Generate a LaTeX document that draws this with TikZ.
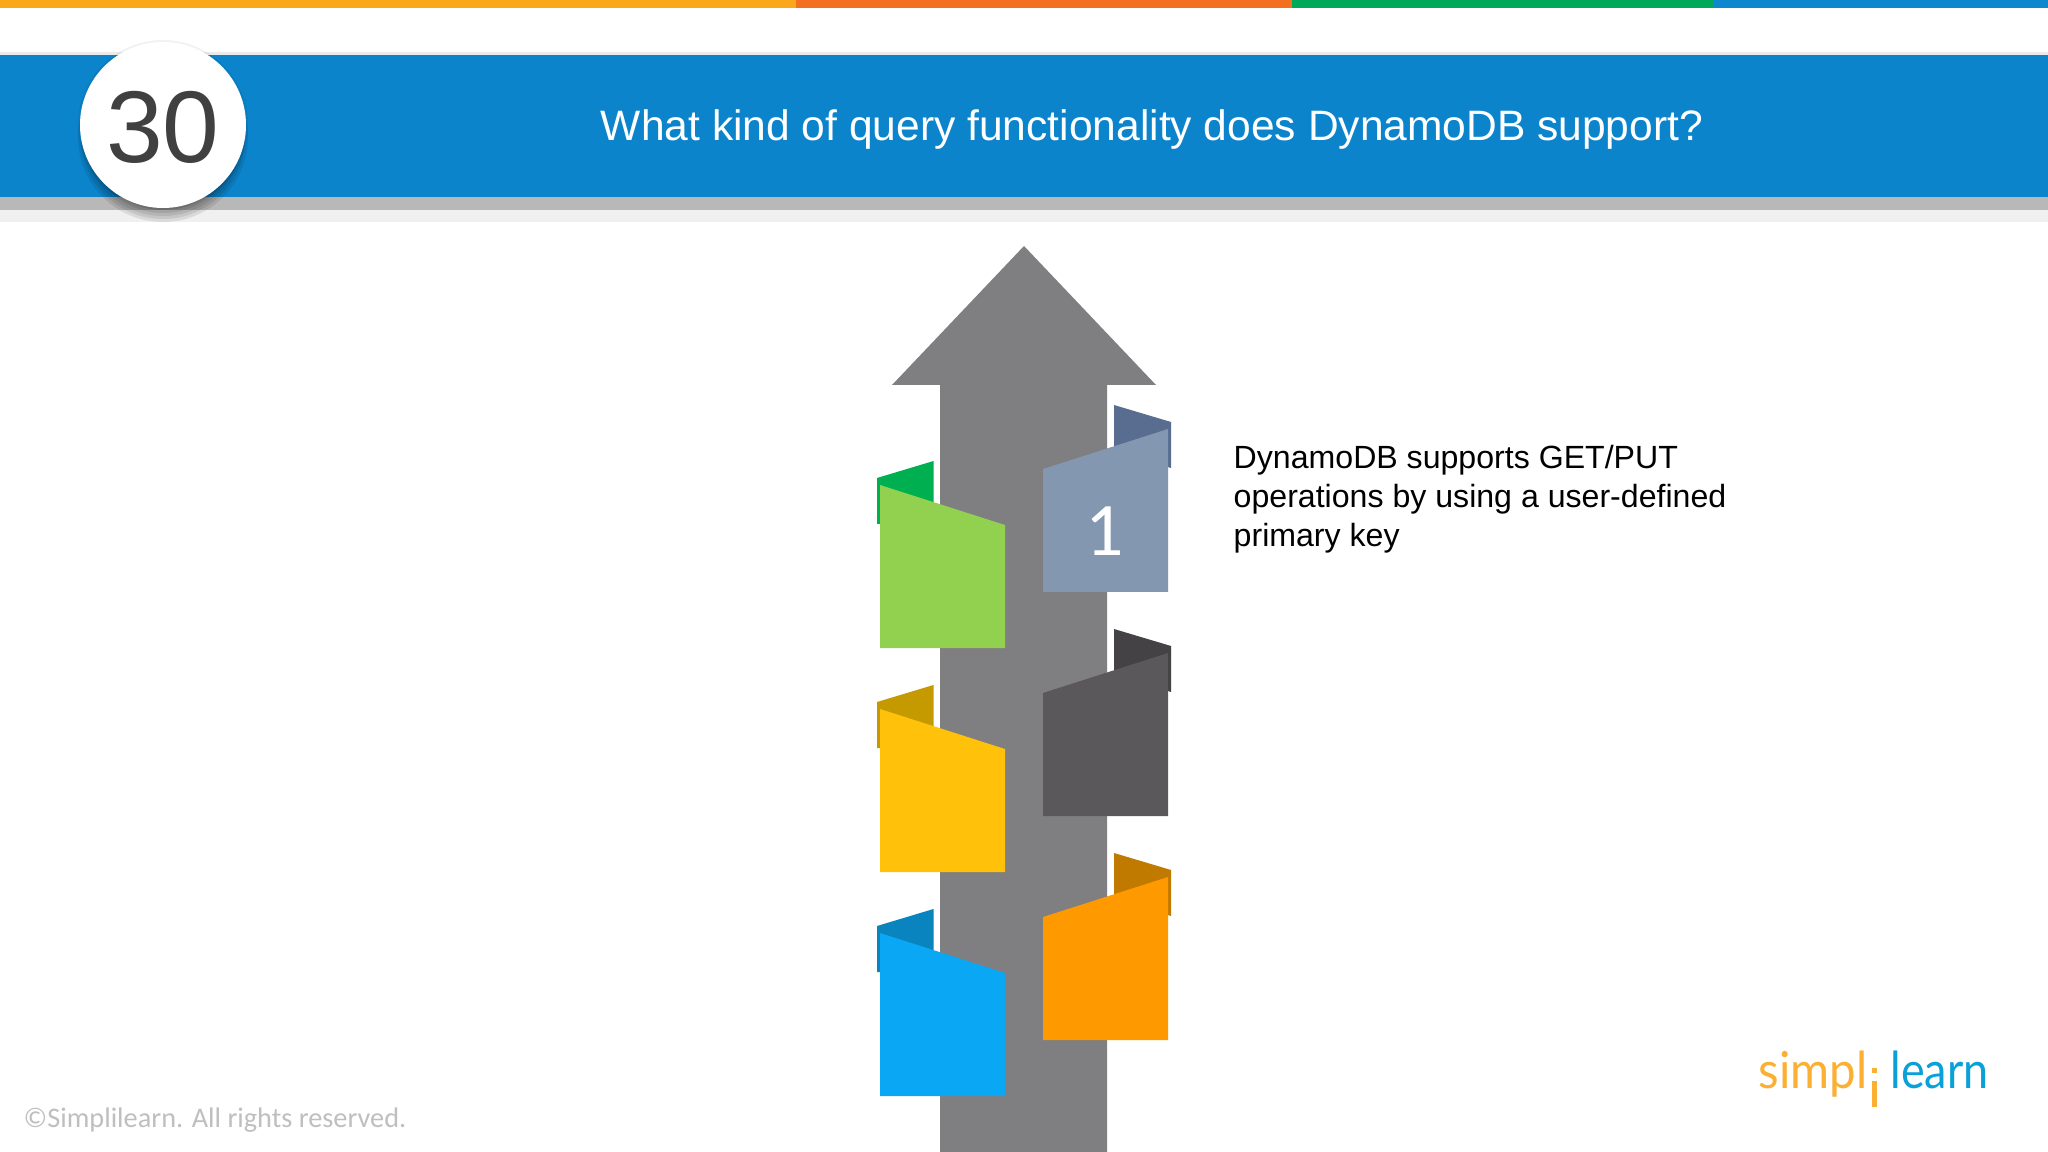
\documentclass[tikz,border=0pt]{standalone}
\usepackage{fontspec}
\setmainfont{Liberation Sans}
\newfontfamily\carlitofont{Carlito}
\newfontfamily\latofont{Lato}
\definecolor{barorange}{HTML}{FBA71C}
\definecolor{barred}{HTML}{F37021}
\definecolor{bargreen}{HTML}{00A859}
\definecolor{barblue}{HTML}{0D88CE}
\definecolor{bandblue}{HTML}{0B84CC}
\definecolor{arrowgrey}{HTML}{7F7E80}
\definecolor{slatefront}{HTML}{8497B0}
\definecolor{slateback}{HTML}{586D8F}
\definecolor{darkfront}{HTML}{5A585A}
\definecolor{darkback}{HTML}{444244}
\definecolor{orangefront}{HTML}{FF9900}
\definecolor{orangeback}{HTML}{C07A00}
\definecolor{greenfront}{HTML}{92D050}
\definecolor{greenback}{HTML}{00B050}
\definecolor{yellowfront}{HTML}{FFC10A}
\definecolor{yellowback}{HTML}{C49A00}
\definecolor{bluefront}{HTML}{0AA7F5}
\definecolor{blueback}{HTML}{0A84BE}
\tikzset{titletext/.style={text=white,font=\fontsize{12.1}{15}\selectfont},
  bodytext/.style={align=left,anchor=north west,text=black,font=\fontsize{9.13}{11}\selectfont}}
\begin{document}
\begin{tikzpicture}[x=0.01cm,y=-0.01cm]
    \useasboundingbox (0,0) rectangle (2048,1152);
    \fill [white] (0,0) rectangle (2048,1152);
    \fill [barorange] (0,0) rectangle (796,8);
    \fill [barred] (796,0) rectangle (1292,8);
    \fill [bargreen] (1292,0) rectangle (1714,8);
    \fill [barblue] (1714,0) rectangle (2048,8);
    \fill [black!8] (0,52) rectangle (2048,55);
    \fill [bandblue] (0,55) rectangle (2048,197);
    \fill [black!28] (0,197) rectangle (2048,210);
    \fill [black!6] (0,210) rectangle (2048,222);
    % shadow under the number
    \fill [black,opacity=0.05] (163,125) circle (85);
    \foreach \r in {70,73,76,79,82,85}
      \fill [black,opacity=0.09] (163,137) circle (\r);
    \fill [white] (163,125) circle (83);
    \node (number) at (163,127) {\fontsize{29}{34}\selectfont\color{black!75}30};
    \node [titletext] (title) at (1152,130) {What kind of query functionality does DynamoDB support?};
    % big arrow
    \fill [arrowgrey] (1024,246) -- (1156,385) -- (1107,385) -- (1107,1152) -- (940,1152) -- (940,385) -- (892,385) -- cycle;
    % right flags
    \foreach \s/\front/\back in {0/slatefront/slateback,224/darkfront/darkback,448/orangefront/orangeback}{
      \fill [\back] (1114,405+\s) -- (1171,422+\s) -- (1171,468+\s) -- (1114,450+\s) -- cycle;
      \fill [\front] (1043,469+\s) -- (1168,429+\s) -- (1168,592+\s) -- (1043,592+\s) -- cycle;
    }
    % left flags
    \foreach \s/\front/\back in {0/greenfront/greenback,224/yellowfront/yellowback,448/bluefront/blueback}{
      \fill [\back] (877,478+\s) -- (933.5,461+\s) -- (933.5,510+\s) -- (880,524+\s) -- (877,524+\s) -- cycle;
      \fill [\front] (880,485+\s) -- (1005,525+\s) -- (1005,648+\s) -- (880,648+\s) -- cycle;
    }
    \node [text=white] (one) at (1105,531) {\carlitofont\fontsize{21.5}{24}\selectfont 1};
    \node [bodytext,inner sep=0pt] (answer) at (1233,445) {DynamoDB supports GET/PUT\\operations by using a user-defined\\primary key};
    \node [anchor=west,inner sep=0pt,text=black!25] (copyright) at (23,1120) {\carlitofont\fontsize{8.05}{10}\selectfont ©Simplilearn. All rights reserved.};
    % logo
    \node [anchor=base east,inner sep=0pt,text=barorange!90!white,xscale=0.93] (simpl) at (1868,1088) {\latofont\fontsize{14.5}{18}\selectfont simpl};
    \node [anchor=base west,inner sep=0pt,text=barblue!80!cyan,xscale=0.88] (learn) at (1890,1088) {\latofont\fontsize{14.5}{18}\selectfont learn};
    \fill [barorange!90!white] (1871.5,1068) rectangle (1876.5,1073);
    \fill [barorange!90!white] (1871.5,1081) rectangle (1876.5,1107);
\end{tikzpicture}
\end{document}
